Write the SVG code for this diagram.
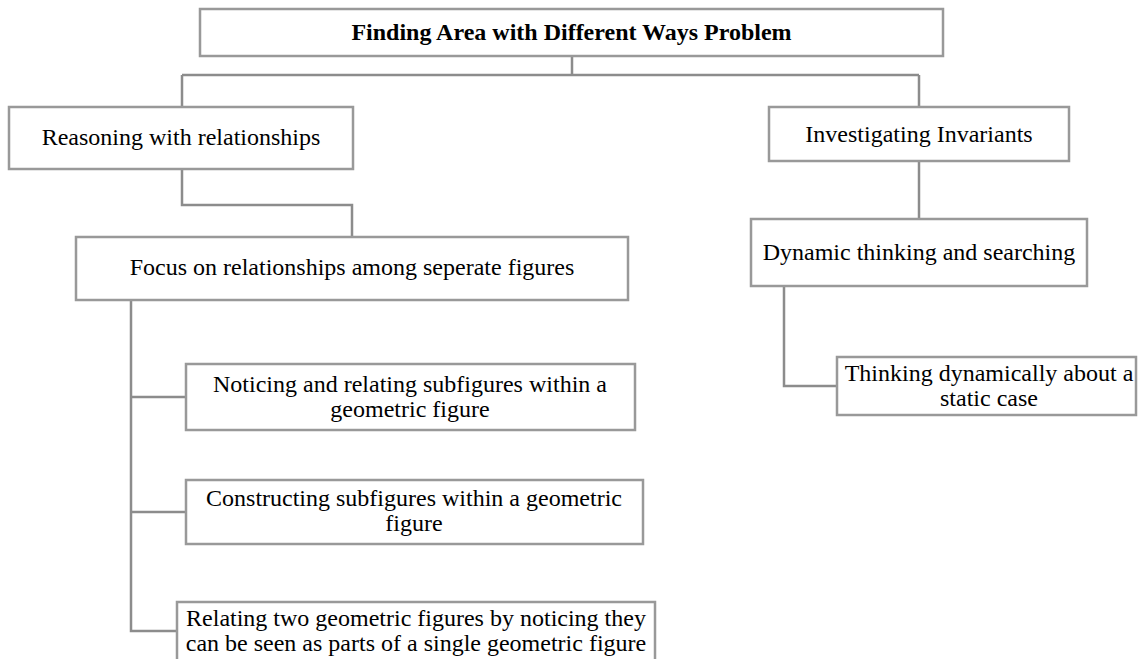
<svg xmlns="http://www.w3.org/2000/svg" width="1138" height="659" viewBox="0 0 1138 659">
<style>
.box{fill:#fff;stroke:#999;stroke-width:2.5}
.t{font-family:"Liberation Serif","Times New Roman",serif;font-size:24px;fill:#000;text-anchor:middle}
.b{font-weight:bold}
.c{fill:none;stroke:#8c8c8c;stroke-width:2.5}
</style>
<rect width="1138" height="659" fill="#fff"/>
<g id="connectors">
<path class="c" d="M572 56V75M182 75H919M182 75V107M919 75V107"/>
<path class="c" d="M182 169V205H352V237"/>
<path class="c" d="M919 161V219"/>
<path class="c" d="M784 286V386H837"/>
<path class="c" d="M131 300V631H177M131 397H186M131 512H186"/>
</g>
<g id="root">
<rect class="box" x="200" y="9" width="743" height="47"/>
<text class="t b" x="571.5" y="40">Finding Area with Different Ways Problem</text>
</g>
<g id="reasoning">
<rect class="box" x="9" y="107" width="344" height="62"/>
<text class="t" x="181" y="145">Reasoning with relationships</text>
</g>
<g id="investigating">
<rect class="box" x="769" y="107" width="300" height="54"/>
<text class="t" x="919" y="142">Investigating Invariants</text>
</g>
<g id="focus">
<rect class="box" x="76" y="237" width="552" height="63"/>
<text class="t" x="352" y="275">Focus on relationships among seperate figures</text>
</g>
<g id="dynamic">
<rect class="box" x="751" y="219" width="336" height="67"/>
<text class="t" x="919" y="260">Dynamic thinking and searching</text>
</g>
<g id="thinking">
<rect class="box" x="837" y="357" width="299" height="58"/>
<text class="t" x="989" y="381">Thinking dynamically about a</text>
<text class="t" x="989" y="406">static case</text>
</g>
<g id="noticing">
<rect class="box" x="186" y="364" width="449" height="66"/>
<text class="t" x="410" y="392">Noticing and relating subfigures within a</text>
<text class="t" x="410" y="417">geometric figure</text>
</g>
<g id="constructing">
<rect class="box" x="186" y="480" width="457" height="64"/>
<text class="t" x="414" y="506">Constructing subfigures within a geometric</text>
<text class="t" x="414" y="531">figure</text>
</g>
<g id="relating">
<rect class="box" x="177" y="602" width="478" height="70"/>
<text class="t" x="416" y="626">Relating two geometric figures by noticing they</text>
<text class="t" x="416" y="651">can be seen as parts of a single geometric figure</text>
</g>
</svg>
